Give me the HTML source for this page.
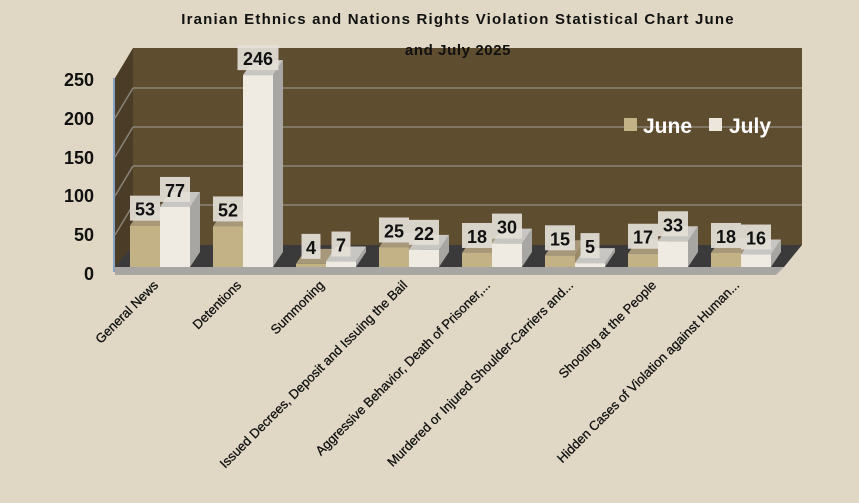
<!DOCTYPE html>
<html><head><meta charset="utf-8"><style>
html,body{margin:0;padding:0;background:#e0d8c4;}
svg{display:block;font-family:"Liberation Sans",sans-serif;}
</style></head><body>
<svg width="859" height="503" viewBox="0 0 859 503" xmlns="http://www.w3.org/2000/svg">
<rect width="859" height="503" fill="#e0d8c4"/>
<rect x="133" y="48" width="669" height="197" fill="#5f4d30"/>
<polygon points="115,78 133,48 133,245 115,268" fill="#4a3c26"/>
<line x1="114" y1="78" x2="114" y2="272" stroke="#6a8fc8" stroke-width="1.5"/>
<g stroke="#8a8478" stroke-width="1.5">
<line x1="133" y1="88" x2="802" y2="88"/><line x1="115" y1="118" x2="133" y2="88"/>
<line x1="133" y1="127" x2="802" y2="127"/><line x1="115" y1="157" x2="133" y2="127"/>
<line x1="133" y1="166" x2="802" y2="166"/><line x1="115" y1="196" x2="133" y2="166"/>
<line x1="133" y1="205" x2="802" y2="205"/><line x1="115" y1="235" x2="133" y2="205"/>
</g>
<text x="458" y="24" text-anchor="middle" font-size="15" font-weight="bold" letter-spacing="1.2" fill="#111">Iranian Ethnics and Nations Rights Violation Statistical Chart June</text>
<text x="458" y="55" text-anchor="middle" font-size="15" font-weight="bold" letter-spacing="0.6" fill="#111">and July 2025</text>
<polygon points="133,245 802,245 784,267 115,267" fill="#3a3a3a"/>
<polygon points="115,267 784,267 776,275 115,275" fill="#a8a6a2"/>
<g font-size="18" font-weight="bold" fill="#111" text-anchor="end">
<text x="94" y="86">250</text><text x="94" y="125">200</text><text x="94" y="164">150</text>
<text x="94" y="202">100</text><text x="94" y="241">50</text><text x="94" y="280">0</text>
</g>
<rect x="624" y="118" width="13" height="13" fill="#c4b287"/>
<text x="643" y="133" font-size="21" font-weight="bold" fill="#fff">June</text>
<rect x="709" y="118" width="13" height="13" fill="#ece6dc"/>
<text x="729" y="133" font-size="21" font-weight="bold" fill="#fff">July</text>
<g id="bars"></g>
<g id="lbls" font-size="18" font-weight="bold" fill="#111" text-anchor="middle"></g>
<g id="cats" font-size="13" fill="#111" stroke="#111" stroke-width="0.3" text-anchor="end"></g>
</svg>
<script>
var june=[53,52,4,25,18,15,17,18],july=[77,246,7,22,30,5,33,16];
var cats=["General News","Detentions","Summoning","Issued Decrees, Deposit and Issuing the Bail","Aggressive Behavior, Death of Prisoner,...","Murdered or Injured Shoulder-Carriers and...","Shooting at the People","Hidden Cases of Violation against Human..."];
var ns="http://www.w3.org/2000/svg",B=document.getElementById("bars"),L=document.getElementById("lbls"),C=document.getElementById("cats");
function el(t,a,p){var e=document.createElementNS(ns,t);for(var k in a)e.setAttribute(k,a[k]);p.appendChild(e);return e;}
function bar(x,v,front,side,top){var b=267,h=v*0.78,t=b-h,w=30,dx=10,dy=15;
el("polygon",{points:(x+w)+","+b+" "+(x+w+dx)+","+(b-dy)+" "+(x+w+dx)+","+(t-dy)+" "+(x+w)+","+t,fill:side},B);
el("polygon",{points:x+","+t+" "+(x+dx)+","+(t-dy)+" "+(x+w+dx)+","+(t-dy)+" "+(x+w)+","+t,fill:top},B);
el("rect",{x:x,y:t,width:w,height:h,fill:front},B);
var s=String(v),bw=s.length*11+8;
el("rect",{x:x+15-bw/2,y:t-30,width:bw,height:25,fill:"#e4e0d8",opacity:0.92},L);
var tx=el("text",{x:x+15,y:t-10},L);tx.textContent=s;}
for(var i=0;i<8;i++){var c=160+83*i;
bar(c-30,june[i],"#c4b287","#9a8a66","#a8987a");
bar(c,july[i],"#f0ebe2","#a8a6a2","#c8c6c2");
var t=el("text",{x:0,y:0,transform:"translate("+(c-1)+",286) rotate(-45)"},C);t.textContent=cats[i];}
</script>
</body></html>
